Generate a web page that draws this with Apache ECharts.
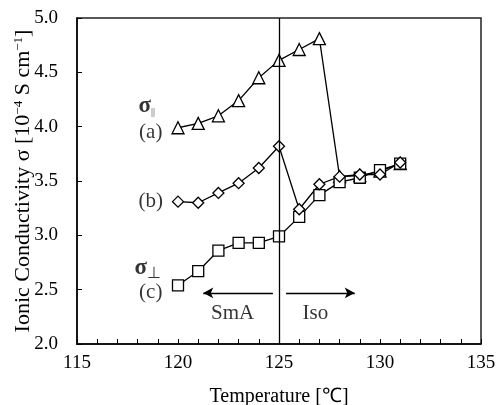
<!DOCTYPE html>
<html><head><meta charset="utf-8">
<script src="https://cdn.jsdelivr.net/npm/echarts@6/dist/echarts.min.js"></script>
<style>html,body{margin:0;padding:0;background:#fff}#c{width:496px;height:405px}</style>
</head><body><div id="c"></div>
<script>
// Temperature (°C)
const temps = [120,121,122,123,124,125,126,127,128,129,130,131];
// (a) sigma parallel - triangles
const sigmaA = [3.99,4.03,4.10,4.24,4.45,4.61,4.71,4.81,3.54,3.55,3.59,3.66];
// (b) diamonds
const sigmaB = [3.31,3.30,3.39,3.48,3.62,3.82,3.24,3.47,3.54,3.56,3.56,3.67];
// (c) sigma perpendicular - squares
const sigmaC = [2.54,2.67,2.86,2.93,2.93,2.99,3.17,3.37,3.49,3.53,3.60,3.66];
// phase transition temperature
const transitionT = 125;
// annotation labels [x, y, text]
const annoLabels = [
  [118.45, 4.19, '{s|σ}{sub|||}'],
  [118.65, 3.95, '(a)'],
  [118.65, 3.31, '(b)'],
  [118.5, 2.70, '{s|σ}{sub2|⊥}'],
  [118.65, 2.47, '(c)'],
  [122.7, 2.28, 'SmA'],
  [126.8, 2.28, 'Iso']
];
// arrows [fromX, toX, y]
const arrows = [[124.7, 121.25, 2.47], [125.35, 128.75, 2.47]];

const F = '"Liberation Serif","Times New Roman",serif';
const chart = echarts.init(document.getElementById('c'));
function ser(name, vals, symbol, size) {
  return {
    type: 'line', name, data: temps.map((t, i) => [t, vals[i]]),
    symbol, symbolSize: size, showAllSymbol: true,
    lineStyle: {color: '#000', width: 1.3},
    itemStyle: {color: '#fff', borderColor: '#000', borderWidth: 1.3},
    emphasis: {disabled: true}
  };
}
chart.setOption({
  animation: false,
  backgroundColor: '#fff',
  grid: {left: 77, right: 15, top: 18, bottom: 61, containLabel: false, outerBoundsMode: 'none', show: true, borderColor: '#222', borderWidth: 1.5, backgroundColor: 'transparent'},
  xAxis: {
    type: 'value', min: 115, max: 135, interval: 5,
    name: 'Temperature [℃]', nameLocation: 'middle', nameGap: 43,
    nameTextStyle: {fontFamily: F, fontSize: 20, color: '#000'},
    axisLine: {lineStyle: {color: '#000', width: 1.5}},
    axisTick: {inside: true, length: 5, lineStyle: {color: '#000'}},
    minorTick: {show: true, splitNumber: 5, length: 5, lineStyle: {color: '#000'}},
    splitLine: {show: false},
    axisLabel: {fontFamily: F, fontSize: 19, color: '#000', margin: 10}
  },
  yAxis: {
    type: 'value', min: 2, max: 5, interval: 0.5,
    name: 'Ionic Conductivity σ [10{sup|−4} S cm{sup|−1}]', nameLocation: 'middle', nameGap: 43,
    nameMoveOverlap: false,
    nameTextStyle: {fontFamily: F, fontSize: 22, color: '#000', rich: {sup: {fontFamily: F, fontSize: 13, color: '#000', verticalAlign: 'top', lineHeight: 22}}},
    axisLine: {lineStyle: {color: '#000', width: 1.5}},
    axisTick: {inside: true, length: 5, lineStyle: {color: '#000'}},
    splitLine: {show: false},
    axisLabel: {fontFamily: F, fontSize: 19, color: '#000', margin: 19, formatter: v => v.toFixed(1)}
  },
  series: [
    {
      type: 'scatter', symbolSize: 0, silent: true,
      data: annoLabels.map(a => ({value: [a[0], a[1]], label: {formatter: a[2]}})),
      label: {show: true, position: 'inside', fontFamily: F, fontSize: 21, color: '#000',
        rich: {
          s: {fontFamily: F, fontSize: 23, fontWeight: 'bold', color: '#000'},
          sub: {fontFamily: F, fontSize: 10, color: '#000', verticalAlign: 'bottom', lineHeight: 20},
          sub2: {fontFamily: F, fontSize: 16, color: '#000', verticalAlign: 'bottom', lineHeight: 28}
        }},
      markLine: {
        silent: true, animation: false,
        label: {show: false},
        lineStyle: {color: '#000', width: 1.3, type: 'solid'},
        symbol: ['none', 'arrow'], symbolSize: [8, 10],
        data: [
          [{coord: [transitionT, 5], symbol: 'none'}, {coord: [transitionT, 2], symbol: 'none'}]
        ].concat(arrows.map(a => [{coord: [a[0], a[2]], symbol: 'none'}, {coord: [a[1], a[2]], symbol: 'arrow'}]))
      }
    },
    ser('a', sigmaA, 'triangle', 12),
    ser('c', sigmaC, 'rect', 11),
    ser('b', sigmaB, 'diamond', 11)
  ]
});
</script></body></html>
